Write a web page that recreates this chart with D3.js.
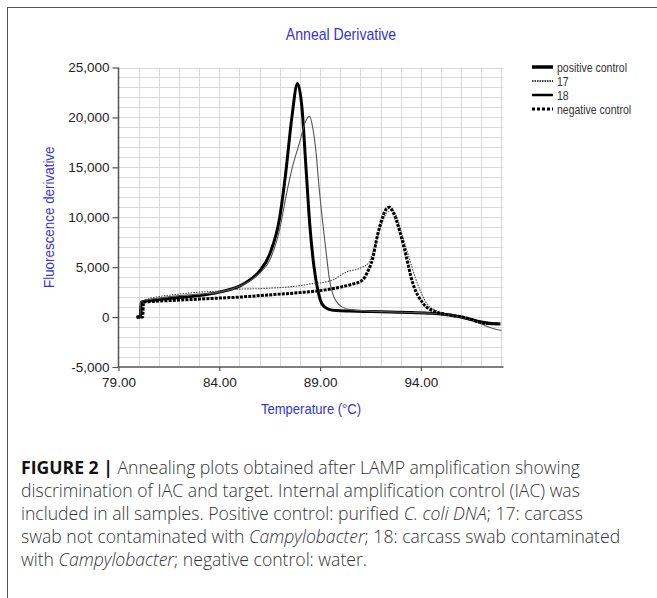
<!DOCTYPE html>
<html>
<head>
<meta charset="utf-8">
<script src="https://cdn.jsdelivr.net/npm/d3@7"></script>
<style>
  body { margin: 0; background: #fff; }
  svg { display: block; }
  .tick text { font-family: "Liberation Sans", Arial, sans-serif; font-size: 13.5px; fill: #222; }
</style>
</head>
<body>
<svg id="chart" width="657" height="598"></svg>
<script>
// temperatures (°C) and fluorescence derivative readings, one pair of arrays per sample
const posTemp = [79.9, 80.08, 80.12, 80.5, 81, 82, 83, 84, 85, 85.5, 86, 86.5, 87, 87.3, 87.6, 87.88, 88.1, 88.3, 88.5, 88.7, 88.9, 89.1, 89.4, 89.8, 90.5, 91.5, 92.5, 93.5, 94.5, 95.2, 96, 96.5, 97, 97.5, 97.95];
const posVal  = [0, 0, 1500, 1650, 1750, 1950, 2150, 2500, 3100, 3700, 4600, 6300, 10000, 14500, 20000, 23400, 21000, 15000, 9000, 5000, 2600, 1300, 800, 650, 600, 550, 500, 450, 380, 250, 0, -250, -500, -650, -700];

const s17Temp = [79.9, 80.18, 80.22, 80.6, 81, 82, 83, 84, 85, 86, 87, 88, 88.6, 89.1, 89.6, 90.3, 91.1, 91.4, 91.7, 92, 92.3, 92.55, 92.75, 93.05, 93.35, 93.75, 94.25, 94.8, 95.3, 96, 96.5, 97, 97.5, 97.95];
const s17Val  = [0, 0, 1600, 1900, 2050, 2300, 2500, 2600, 2800, 2850, 2950, 3150, 3350, 3450, 3700, 4500, 5000, 5400, 7000, 9000, 10400, 10700, 10300, 8400, 6400, 3800, 1500, 600, 280, 0, -300, -550, -650, -700];

const s18Temp = [79.9, 80.06, 80.1, 80.5, 81, 82, 83, 84, 85, 85.5, 86, 86.5, 87, 87.3, 87.6, 88, 88.3, 88.48, 88.65, 88.8, 88.95, 89.1, 89.3, 89.45, 89.6, 89.8, 90.1, 90.5, 91.5, 92.5, 93.5, 94.5, 95.2, 96, 96.5, 97, 97.5, 98];
const s18Val  = [0, 0, 1550, 1750, 1900, 2150, 2300, 2500, 3100, 3600, 4400, 5700, 8800, 12000, 14800, 17600, 19700, 20100, 18800, 16500, 13000, 10000, 6500, 4000, 2500, 1600, 1000, 750, 600, 520, 460, 380, 250, 0, -300, -700, -1100, -1350];

const negTemp = [79.9, 80.2, 80.24, 80.6, 81, 82, 83, 84, 85, 86, 87, 88, 89, 90, 90.6, 91.1, 91.35, 91.6, 91.85, 92.1, 92.28, 92.45, 92.65, 92.95, 93.2, 93.6, 94.1, 94.7, 95.2, 96.36, 96.85, 97.35, 97.9];
const negVal  = [0, 0, 1500, 1550, 1600, 1700, 1800, 1900, 2000, 2150, 2300, 2450, 2650, 3000, 3300, 3700, 4500, 5800, 8200, 10000, 10800, 11000, 10400, 8600, 6700, 3400, 1400, 550, 300, -150, -480, -650, -680];

const seriesNames = ["positive control", "17", "18", "negative control"];
const xTickValues = [79, 84, 89, 94];
const yTickValues = [-5000, 0, 5000, 10000, 15000, 20000, 25000];

const captionLines = [
  [["FIGURE 2 |", "b"], [" Annealing plots obtained after LAMP amplification showing", ""]],
  [["discrimination of IAC and target. Internal amplification control (IAC) was", ""]],
  [["included in all samples. Positive control: purified ", ""], ["C. coli DNA", "i"], ["; 17: carcass", ""]],
  [["swab not contaminated with ", ""], ["Campylobacter", "i"], ["; 18: carcass swab contaminated", ""]],
  [["with ", ""], ["Campylobacter", "i"], ["; negative control: water.", ""]]
];

const styles = [
  { width: 3, dash: null, color: "#000" },
  { width: 1.1, dash: "1.5,1.2", color: "#444" },
  { width: 1.1, dash: null, color: "#555" },
  { width: 3, dash: "3,1.2", color: "#000" }
];

const series = [
  { name: seriesNames[0], t: posTemp, v: posVal },
  { name: seriesNames[1], t: s17Temp, v: s17Val },
  { name: seriesNames[2], t: s18Temp, v: s18Val },
  { name: seriesNames[3], t: negTemp, v: negVal }
];

const svg = d3.select("#chart");
const blue = "#3434d4";
const font = '"Liberation Sans", Arial, sans-serif';

// outer frame (only top and left edges show in the picture)
svg.append("rect")
  .attr("x", 7.5).attr("y", 7.5)
  .attr("width", 700).attr("height", 700)
  .attr("fill", "none").attr("stroke", "#555").attr("stroke-width", 1);

const plotLeft = 118.5, plotRight = 503.5, plotTop = 67.5, plotBottom = 367;
const x = d3.scaleLinear().domain([79, 98.1]).range([plotLeft, plotRight]);
const y = d3.scaleLinear().domain([-5000, 25000]).range([plotBottom, plotTop]);

// grid
const grid = svg.append("g").attr("stroke", "#d9d9d9").attr("stroke-width", 1);
grid.selectAll("line.v")
  .data(d3.range(80, 98.5, 1))
  .enter().append("line")
  .attr("x1", d => Math.round(x(d)) + 0.5).attr("x2", d => Math.round(x(d)) + 0.5)
  .attr("y1", plotTop).attr("y2", plotBottom);
grid.selectAll("line.h")
  .data(d3.range(-4000, 25001, 1000))
  .enter().append("line")
  .attr("x1", plotLeft).attr("x2", plotRight)
  .attr("y1", d => Math.round(y(d)) + 0.5).attr("y2", d => Math.round(y(d)) + 0.5);

// axes
const fmt = d3.format(",");
const xAxis = d3.axisBottom(x).tickValues(xTickValues).tickFormat(d3.format(".2f")).tickSize(4).tickPadding(6);
const yAxis = d3.axisLeft(y).tickValues(yTickValues).tickFormat(d => fmt(d).replace("\u2212", "-")).tickSize(6).tickPadding(3);

const gx = svg.append("g").attr("transform", "translate(0," + plotBottom + ")").call(xAxis);
const gy = svg.append("g").attr("transform", "translate(" + plotLeft + ",0)").call(yAxis);
[gx, gy].forEach(g => {
  g.select(".domain").attr("stroke", "#555").attr("stroke-width", 1.5);
  g.selectAll(".tick line").attr("stroke", "#555").attr("stroke-width", 1.2);
});
gy.select(".domain").attr("d", "M0," + plotTop + "V" + plotBottom);
gx.select(".domain").attr("d", "M" + plotLeft + ",0H" + plotRight);

// curves
const line = d3.line()
  .x(d => x(d[0]))
  .y(d => y(d[1]))
  .curve(d3.curveMonotoneX);

svg.append("g").selectAll("path")
  .data(series)
  .enter().append("path")
  .attr("d", d => line(d.t.map((t, i) => [t, d.v[i]])))
  .attr("fill", "none")
  .attr("stroke", (d, i) => styles[i].color)
  .attr("stroke-width", (d, i) => styles[i].width)
  .attr("stroke-dasharray", (d, i) => styles[i].dash)
  .attr("stroke-linejoin", "round");

// titles, squeezed a little to look like the condensed face of the original
svg.append("text")
  .attr("transform", "translate(341,40) scale(0.88,1)")
  .attr("text-anchor", "middle")
  .attr("font-family", font).attr("font-size", 16).attr("fill", blue)
  .text("Anneal Derivative");

svg.append("text")
  .attr("transform", "translate(311,414) scale(0.87,1)")
  .attr("text-anchor", "middle")
  .attr("font-family", font).attr("font-size", 15).attr("fill", blue)
  .text("Temperature (°C)");

svg.append("text")
  .attr("transform", "translate(54," + ((plotTop + plotBottom) / 2) + ") rotate(-90) scale(0.865,1)")
  .attr("text-anchor", "middle")
  .attr("font-family", font).attr("font-size", 15.5).attr("fill", blue)
  .text("Fluorescence derivative");

// legend
const legend = svg.append("g").selectAll("g")
  .data(series)
  .enter().append("g")
  .attr("transform", (d, i) => "translate(532," + (67 + i * 14) + ")");
legend.append("line")
  .attr("x1", 0).attr("x2", 21)
  .attr("stroke", "#000")
  .attr("stroke-width", (d, i) => [3.5, 1.3, 2.5, 3][i])
  .attr("stroke-dasharray", (d, i) => [null, "1.5,1", null, "3,2"][i]);
legend.append("text")
  .attr("transform", "translate(25,4.5) scale(0.875,1)")
  .attr("font-family", font).attr("font-size", 12).attr("fill", "#333")
  .text(d => d.name);

// caption
const cap = svg.append("g")
  .attr("font-family", '"Open Sans", "Liberation Sans", sans-serif')
  .attr("font-weight", 300)
  .attr("font-size", 17.6).attr("fill", "#333");
captionLines.forEach((parts, i) => {
  const t = cap.append("text").attr("x", 21).attr("y", 474 + i * 23);
  parts.forEach(p => {
    t.append("tspan")
      .attr("font-weight", p[1] === "b" ? 700 : null)
      .attr("fill", p[1] === "b" ? "#111" : null)
      .attr("font-style", p[1] === "i" ? "italic" : null)
      .text(p[0]);
  });
});
</script>
</body>
</html>
